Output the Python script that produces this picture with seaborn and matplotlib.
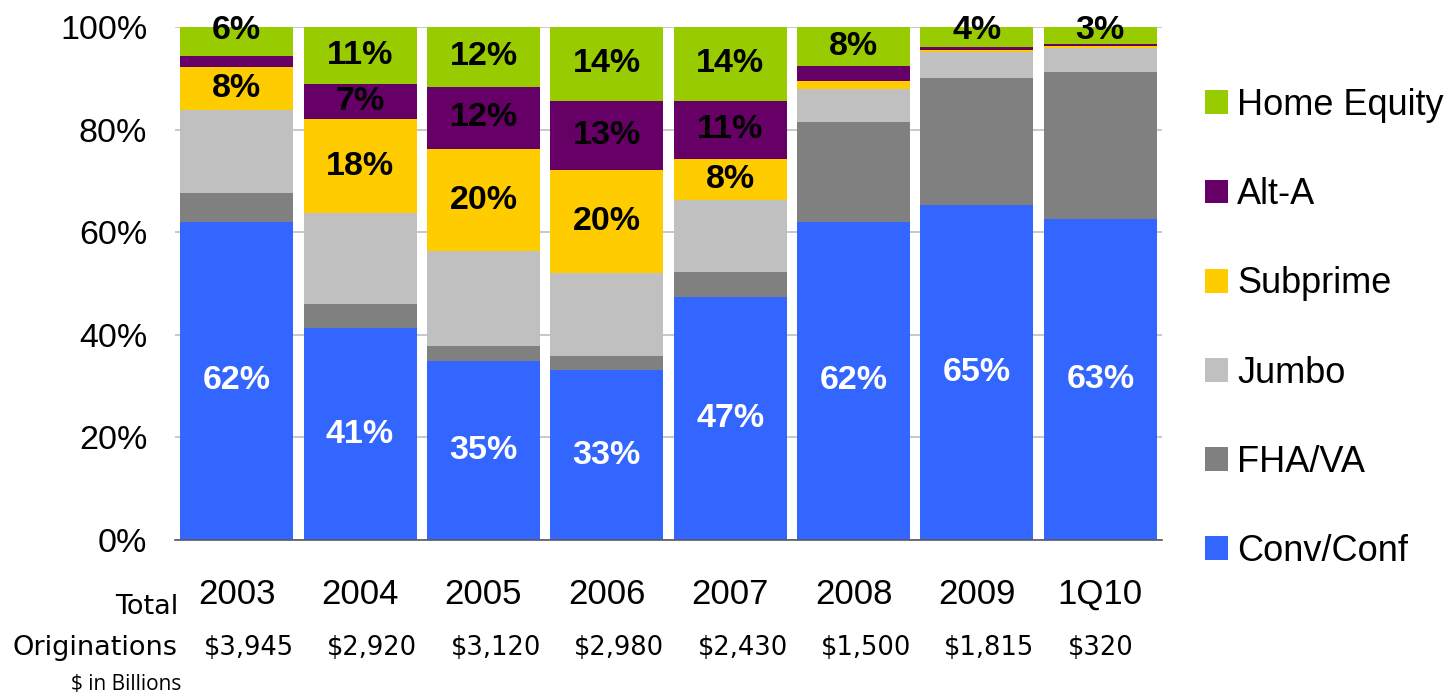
import numpy as np
import pandas as pd
import matplotlib
matplotlib.use("Agg")
import matplotlib.pyplot as plt
from matplotlib.patches import Patch
import seaborn as sns

years = ["2003", "2004", "2005", "2006", "2007", "2008", "2009", "1Q10"]
totals = ["$3,945", "$2,920", "$3,120", "$2,980", "$2,430", "$1,500", "$1,815", "$320"]
series_names = ["Conv/Conf", "FHA/VA", "Jumbo", "Subprime", "Alt-A", "Home Equity"]
conv = [62.0, 41.3, 34.9, 33.1, 47.4, 62.0, 65.3, 62.6]
fha = [5.6, 4.7, 2.9, 2.8, 4.8, 19.5, 24.8, 28.6]
jumbo = [16.3, 17.7, 18.5, 16.2, 14.1, 6.4, 5.0, 4.7]
subprime = [8.4, 18.4, 19.9, 20.1, 8.0, 1.6, 0.4, 0.3]
alta = [2.1, 6.7, 12.2, 13.4, 11.3, 2.9, 0.6, 0.4]
home_equity = [5.6, 11.2, 11.6, 14.4, 14.4, 7.6, 3.9, 3.4]
colors = ["#3366FF", "#808080", "#C0C0C0", "#FFCC00", "#660066", "#99CC00"]
labelled = {"Conv/Conf": "white", "Subprime": "black", "Alt-A": "black", "Home Equity": "black"}
label_years = {"Subprime": years[:5], "Alt-A": years[1:5]}

sns.set_theme(style="white")
plt.rcParams["font.family"] = ["Liberation Sans", "DejaVu Sans"]
plt.rcParams["text.color"] = "black"
plt.rcParams["xtick.color"] = "black"
plt.rcParams["ytick.color"] = "black"

data = [conv, fha, jumbo, subprime, alta, home_equity]
df = pd.DataFrame({name: vals for name, vals in zip(series_names, data)}, index=years)
cum = df.cumsum(axis=1)

fig = plt.figure(figsize=(14.49, 6.96), dpi=100)
ax = fig.add_axes([175 / 1449, 1 - 540 / 696, (1162 - 175) / 1449, (540 - 27) / 696])

# draw from top cumulative down so lower segments overlay
for name, col in reversed(list(zip(series_names, colors))):
    sns.barplot(x=years, y=cum[name].values, order=years, color=col, saturation=1,
                width=0.915, linewidth=0, edgecolor="none", ax=ax, zorder=2)

# segment labels
for name in series_names:
    if name not in labelled:
        continue
    for i, yr in enumerate(years):
        if name in label_years and yr not in label_years[name]:
            continue
        v = df.loc[yr, name]
        bottom = cum.loc[yr, name] - v
        yc = bottom + v / 2
        if name == "Home Equity" and v < 7:
            yc = 99.3
        ax.text(i, yc, f"{v:.0f}%", ha="center", va="center", fontsize=24.5,
                fontweight="bold", color=labelled[name], zorder=5)

ax.set_xlim(-0.5, 7.5)
ax.set_ylim(0, 100)
ax.set_yticks(np.arange(0, 101, 20))
ax.set_yticklabels([f"{t}%" for t in range(0, 101, 20)], fontsize=24.5)
ax.yaxis.grid(True, color="#BFBFBF", linewidth=1.2, zorder=0)
ax.set_axisbelow(True)
ax.tick_params(axis="y", length=0, pad=20)
ax.set_xticks(range(len(years)))
ax.set_xticklabels(years, fontsize=25)
ax.tick_params(axis="x", which="major", length=0, pad=27)
ax.set_xticks(np.arange(-0.5, 8, 1), minor=True)
ax.tick_params(axis="x", which="minor", length=8, width=1.2, color="#595959", direction="out")
for s in ["top", "right", "left"]:
    ax.spines[s].set_visible(False)
ax.spines["bottom"].set_color("#595959")
ax.spines["bottom"].set_linewidth(1.2)
ax.set_xlabel("")
ax.set_ylabel("")

# totals row (below the axis, aligned with bars)
trans = ax.get_xaxis_transform()
row_y = -(648 - 540) / (540 - 27)
for i, t in enumerate(totals):
    ax.text(i - 0.265, row_y, t, transform=trans, ha="left", va="center",
            fontsize=18.5, family="DejaVu Sans", clip_on=False)

fig.text(178 / 1449, 1 - 607 / 696, "Total", ha="right", va="center", fontsize=19.5, family="DejaVu Sans")
fig.text(178 / 1449, 1 - 648 / 696, "Originations", ha="right", va="center", fontsize=19.5, family="DejaVu Sans")
fig.text(181 / 1449, 1 - 685 / 696, "$ in Billions", ha="right", va="center", fontsize=15, family="Open Sans")

handles = [Patch(facecolor=c, edgecolor="none", label=n) for n, c in zip(series_names, colors)][::-1]
ax.legend(handles=handles, loc="center left", bbox_to_anchor=(1205 / 1449, 1 - 328.5 / 696),
          bbox_transform=fig.transFigure, frameon=False, fontsize=26, handlelength=0.64,
          handleheight=0.64, handletextpad=0.25, labelspacing=1.5, borderaxespad=0, borderpad=0)

fig.savefig("out.png", dpi=100)
